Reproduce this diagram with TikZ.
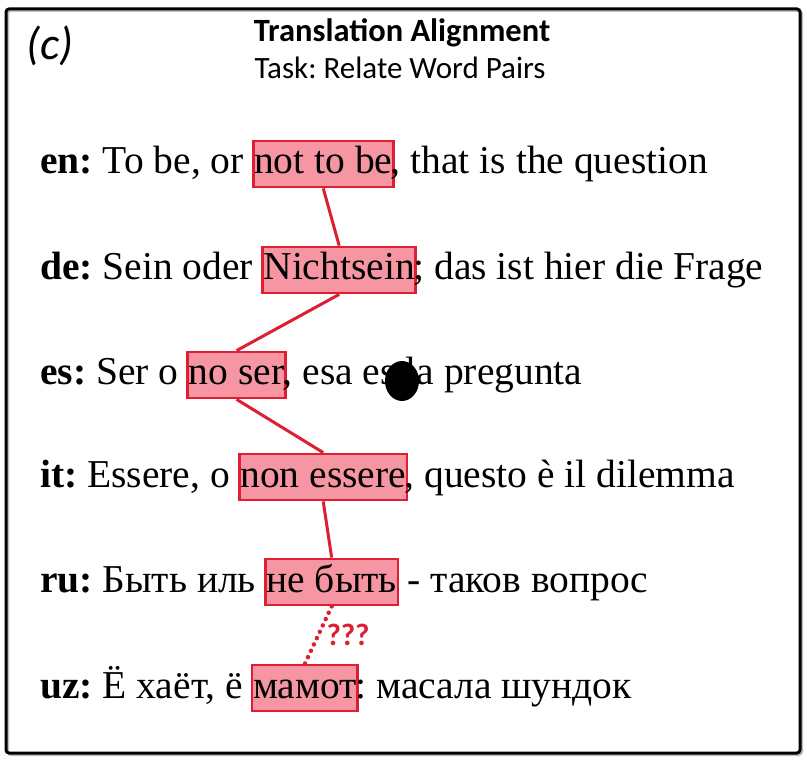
\documentclass[tikz,border=0pt]{standalone}
\usepackage{fontspec}
\usetikzlibrary{calc}
\setmainfont{Liberation Serif}
\newfontfamily\calfont{Carlito}
\definecolor{hlred}{RGB}{222,30,50}
\definecolor{hlpink}{RGB}{245,150,162}
\frenchspacing
\begin{document}
\begin{tikzpicture}[x=1pt,y=-1pt,
  txt/.style={anchor=base west,inner sep=0pt,font=\fontsize{39.5}{44}\selectfont},
  hl/.style={anchor=base west,draw=hlred,line width=2.8pt,fill=hlpink,inner xsep=1pt,inner ysep=5pt,
    text height=28pt,text depth=8pt,font=\fontsize{39.5}{44}\selectfont},
  link/.style={draw=hlred,line width=3pt},
  doubt/.style={draw=hlred,line width=4.5pt,line cap=round,dash pattern=on 0pt off 7pt},
  title/.style={font=\calfont\bfseries\fontsize{32.5}{36}\selectfont},
  subtitle/.style={font=\calfont\fontsize{31}{36}\selectfont}]
\useasboundingbox (0,0) rectangle (807,762);
\fill[white] (0,0) rectangle (807,762);
% frame
\draw[black!25,line width=2pt,rounded corners=3pt] (8,11) rectangle (802,755);
\draw[black,line width=3pt,rounded corners=3pt] (6,9) rectangle (800,753);
% heading
\node[font=\calfont\itshape\fontsize{46}{50}\selectfont] (lab) at (50,46) {(c)};
\node[title] (tt) at (402,33) {Translation Alignment};
\node[subtitle] (st) at (400,68) {Task: Relate Word Pairs};
% en
\node[txt] (en1) at (40,174) {\textbf{en:} To be, or\ \mbox{}};
\node[hl] (enh) at ([xshift=-2pt]en1.base east) {not to be};
\node[txt] (en2) at ([xshift=-4pt]enh.base east) {, that is the question};
% de
\node[txt] (de1) at (40,280) {\textbf{de:} Sein oder\ \mbox{}};
\node[hl] (deh) at ([xshift=-2pt]de1.base east) {Nichtsein};
\node[txt] (de2) at ([xshift=-4pt]deh.base east) {; das ist hier die Frage};
% es
\node[txt] (es1) at (40,385) {\textbf{es:} Ser o\ \mbox{}};
\node[hl] (esh) at ([xshift=-2pt]es1.base east) {no ser};
\node[txt] (es2) at ([xshift=-4pt]esh.base east) {, esa es la pregunta};
% it
\node[txt] (it1) at (40,487) {\textbf{it:} Essere, o\ \mbox{}};
\node[hl] (ith) at ([xshift=-2pt]it1.base east) {non essere};
\node[txt] (it2) at ([xshift=-4pt]ith.base east) {, questo è il dilemma};
% ru
\node[txt] (ru1) at (40,592) {\textbf{ru:} Быть иль\ \mbox{}};
\node[hl] (ruh) at ([xshift=-2pt]ru1.base east) {не быть};
\node[txt] (ru2) at ([xshift=-2pt]ruh.base east) {\mbox{}\ - таков вопрос};
% uz
\node[txt] (uz1) at (40,698) {\textbf{uz:} Ё хаёт, ё\ \mbox{}};
\node[hl] (uzh) at ([xshift=-2pt]uz1.base east) {мамот};
\node[txt] (uz2) at ([xshift=-4pt]uzh.base east) {: масала шундок};
% links
\draw[link] (enh.south) -- (deh.north);
\draw[link] (deh.south) -- (esh.north);
\draw[link] (esh.south) -- (ith.north);
\draw[link] (ith.south) -- (ruh.north);
\draw[doubt] (ruh.south) -- (uzh.north);
\coordinate (mid) at ($(ruh.south)!0.5!(uzh.north)$);
\node[font=\calfont\bfseries\fontsize{31}{34}\selectfont,text=hlred,anchor=west,inner sep=0pt] (q) at ([xshift=8pt,yshift=0pt]mid) {???};
% occluding dot
\fill[black] (402,381) ellipse [x radius=17pt,y radius=20pt];
\end{tikzpicture}
\end{document}
